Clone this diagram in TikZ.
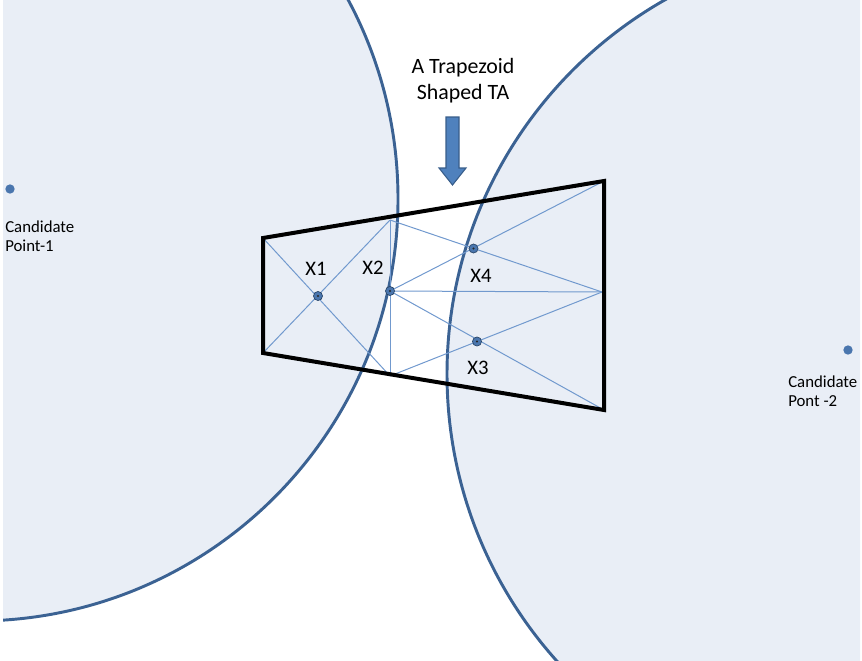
\documentclass[tikz,border=0pt]{standalone}
\usepackage{fontspec}
\setmainfont{Carlito}
\definecolor{fillc}{HTML}{E9EEF6}
\definecolor{ringc}{HTML}{3B6293}
\definecolor{linec}{HTML}{7199CE}
\definecolor{dotc}{HTML}{4A76AE}
\definecolor{arrowc}{HTML}{4F81BD}
\definecolor{arrowb}{HTML}{385D8A}
\begin{document}
\begin{tikzpicture}[x=0.75pt,y=-0.75pt,
 ring/.style={draw=ringc,line width=2.2pt},
 subline/.style={draw=linec,line width=0.75pt},
 trap/.style={draw=black,line width=3pt,line join=miter},
 xdot/.style={circle,fill=dotc,draw=ringc!70!black,line width=0.5pt,inner sep=0pt,minimum size=6.8pt,
   path picture={\fill[black!85] (path picture bounding box.center) circle (0.8pt);}},
 cdot/.style={circle,fill=dotc,inner sep=0pt,minimum size=7pt},
 xlab/.style={font=\fontsize{15.5}{18}\selectfont,inner sep=0pt},
 clab/.style={font=\fontsize{12.6}{14.25}\selectfont,align=left,inner sep=0pt,anchor=west},
 tlab/.style={font=\fontsize{16.4}{19.5}\selectfont,align=center,inner sep=0pt},
 blockarrow/.style={fill=arrowc,draw=arrowb,line width=0.8pt,line join=miter},
]
\useasboundingbox (0,0) rectangle (862,660);
% circles
\begin{scope}
 \clip (3,1) rectangle (860,660);
 \fill[fillc] (-24,199) circle[radius=316.5pt];
 \fill[fillc] (877,374) circle[radius=322.5pt];
 \draw[ring] (-24,199) circle[radius=316.5pt];
 \draw[ring] (877,374) circle[radius=322.5pt];
\end{scope}
% trapezoid corners and inner points
\coordinate (A) at (263,238);
\coordinate (B) at (604,181);
\coordinate (C) at (604,410);
\coordinate (D) at (263,353);
\coordinate (T) at (390,220);
\coordinate (U) at (390,376);
\coordinate (M) at (602,292);
\coordinate (P2) at (390,291);
% inner subdivision lines
\draw[subline] (T) -- (U);
\draw[subline] (A) -- (U);
\draw[subline] (D) -- (T);
\draw[subline] (P2) -- (M);
\draw[subline] (T) -- (M);
\draw[subline] (P2) -- (B);
\draw[subline] (P2) -- (C);
\draw[subline] (U) -- (M);
% trapezoid
\draw[trap] (A) -- (B) -- (C) -- (D) -- cycle;
% points
\node[xdot] (x1) at (318,296) {};
\node[xdot] (x2) at (P2) {};
\node[xdot] (x4) at (473.5,248.5) {};
\node[xdot] (x3) at (477,341.5) {};
\node[xlab] (lx1) at (316,269) {X1};
\node[xlab] (lx2) at (373,268) {X2};
\node[xlab] (lx4) at (481,276) {X4};
\node[xlab] (lx3) at (478,368) {X3};
% candidate points
\node[cdot] (c1) at (10,189) {};
\node[cdot] (c2) at (848,350) {};
\node[clab] (lc1) at (5,236) {Candidate\\Point-1};
\node[clab] (lc2) at (788,391) {Candidate\\Pont -2};
% title and arrow
\node[tlab] (title) at (463,81) {A Trapezoid\\Shaped TA};
\draw[blockarrow] (446,117) -- (459,117) -- (459,168) -- (466,168) -- (452.5,185) -- (439,168) -- (446,168) -- cycle;
\end{tikzpicture}
\end{document}
